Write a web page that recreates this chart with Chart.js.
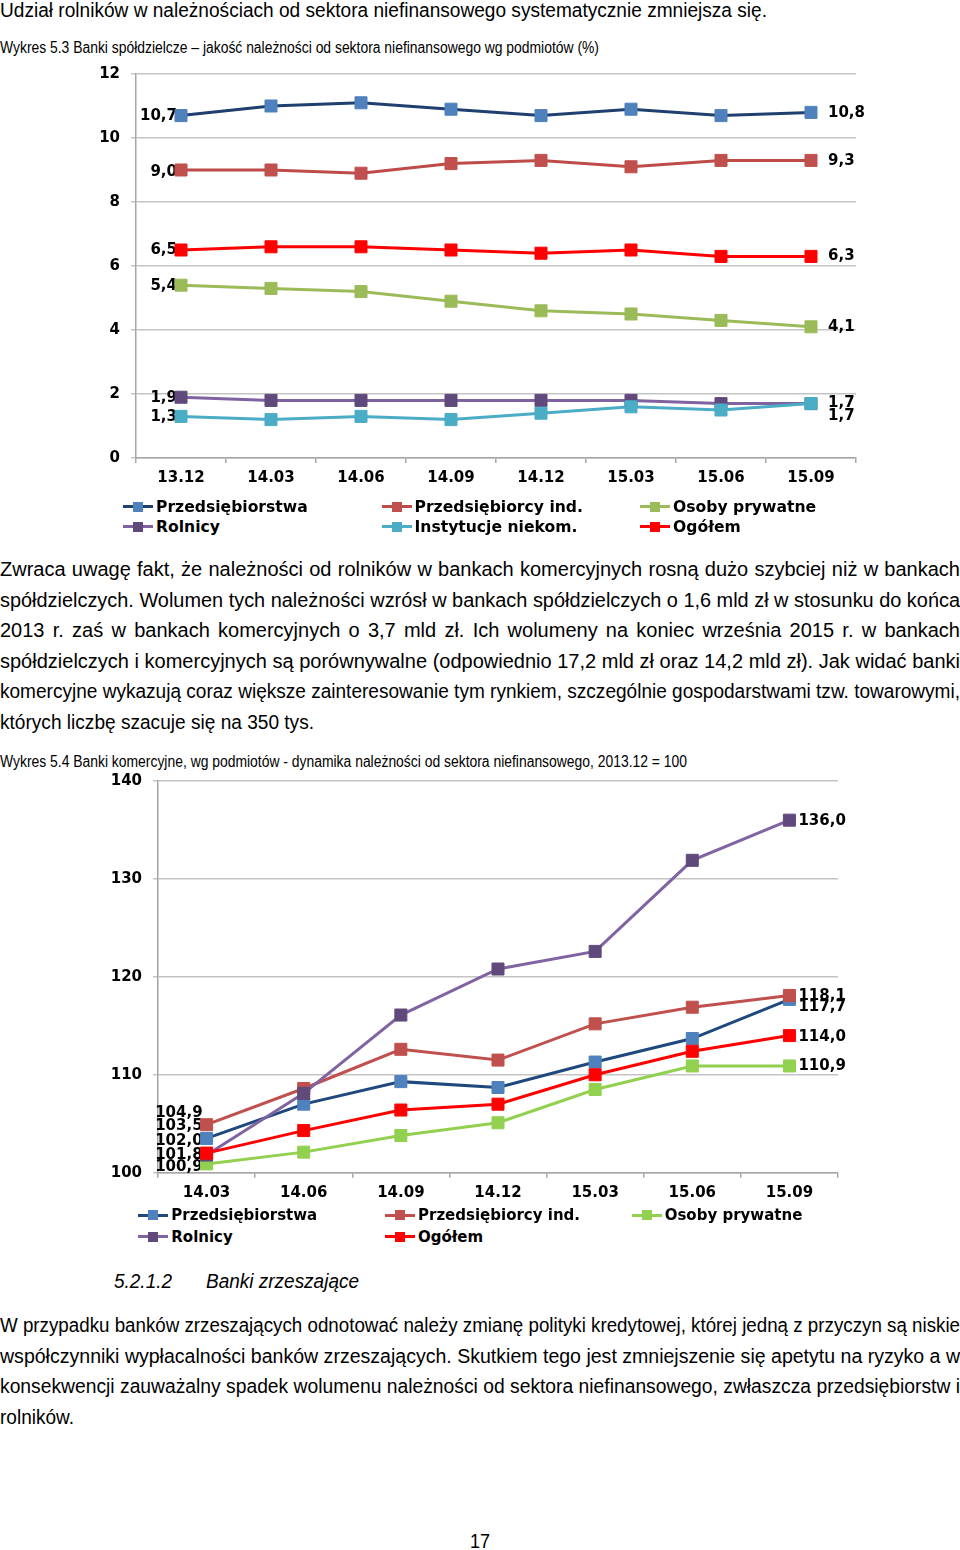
<!DOCTYPE html>
<html><head><meta charset="utf-8">
<script src="https://cdn.jsdelivr.net/npm/chart.js@4.4.1/dist/chart.umd.min.js"></script>
<style>
html,body{margin:0;padding:0;background:#fff;}
body{width:960px;height:1550px;position:relative;overflow:hidden;font-family:"Liberation Sans Narrow","Arial Narrow","Liberation Sans",Arial,sans-serif;color:#000;}
.t{position:absolute;display:inline-block;white-space:nowrap;line-height:1;transform-origin:0 0;}
.cv{position:absolute;left:0;}
.leg{position:absolute;height:20px;display:flex;align-items:center;font-family:"DejaVu Sans",Verdana,sans-serif;font-weight:bold;white-space:nowrap;}
.leg .ln{position:relative;width:30px;height:3px;margin-right:3px;}
.leg .sq{position:absolute;left:10px;top:-3.5px;width:10px;height:10px;}
</style></head><body>

<div class="t" data-fs="20" data-b="16.5" data-x="0" data-w="767">Udział rolników w należnościach od sektora niefinansowego systematycznie zmniejsza się.</div>
<div class="t" data-fs="16" data-b="54" data-x="0" data-w="599">Wykres 5.3 Banki spółdzielcze – jakość należności od sektora niefinansowego wg podmiotów (%)</div>

<canvas id="c1" class="cv" width="960" height="440" style="top:60px"></canvas>

<div class="t" data-fs="20" data-b="576" data-x="0" data-w="960" data-mode="j">Zwraca uwagę fakt, że należności od rolników w bankach komercyjnych rosną dużo szybciej niż w bankach</div>
<div class="t" data-fs="20" data-b="606.5" data-x="0" data-w="960" data-mode="j">spółdzielczych. Wolumen tych należności wzrósł w bankach spółdzielczych o 1,6 mld zł w stosunku do końca</div>
<div class="t" data-fs="20" data-b="637" data-x="0" data-w="960" data-mode="j">2013 r. zaś w bankach komercyjnych o 3,7 mld zł. Ich wolumeny na koniec września 2015 r. w bankach</div>
<div class="t" data-fs="20" data-b="667.5" data-x="0" data-w="960" data-mode="j">spółdzielczych i komercyjnych są porównywalne (odpowiednio 17,2 mld zł oraz 14,2 mld zł). Jak widać banki</div>
<div class="t" data-fs="20" data-b="698" data-x="0" data-w="960" data-mode="j">komercyjne wykazują coraz większe zainteresowanie tym rynkiem, szczególnie gospodarstwami tzw. towarowymi,</div>
<div class="t" data-fs="20" data-b="728.5" data-x="0" data-w="314">których liczbę szacuje się na 350 tys.</div>

<div class="t" data-fs="16" data-b="768" data-x="0" data-w="687">Wykres 5.4 Banki komercyjne, wg podmiotów - dynamika należności od sektora niefinansowego, 2013.12 = 100</div>

<canvas id="c2" class="cv" width="960" height="440" style="top:770px"></canvas>

<div class="t" data-fs="20.5" data-b="1288" data-x="114" data-w="58" style="font-style:italic">5.2.1.2</div>
<div class="t" data-fs="20.5" data-b="1288" data-x="206" data-w="153" style="font-style:italic">Banki zrzeszające</div>

<div class="t" data-fs="20" data-b="1332" data-x="0" data-w="960" data-mode="j">W przypadku banków zrzeszających odnotować należy zmianę polityki kredytowej, której jedną z przyczyn są niskie</div>
<div class="t" data-fs="20" data-b="1362.5" data-x="0" data-w="960" data-mode="j">współczynniki wypłacalności banków zrzeszających. Skutkiem tego jest zmniejszenie się apetytu na ryzyko a w</div>
<div class="t" data-fs="20" data-b="1393" data-x="0" data-w="960" data-mode="j">konsekwencji zauważalny spadek wolumenu należności od sektora niefinansowego, zwłaszcza przedsiębiorstw i</div>
<div class="t" data-fs="20" data-b="1423.5" data-x="0" data-w="74">rolników.</div>

<div class="t" data-fs="20" data-b="1548" data-x="470" data-w="20">17</div>

<script>
// ---------- DATA ----------
const categories1 = ['13.12','14.03','14.06','14.09','14.12','15.03','15.06','15.09'];
const yTicks1 = [0,2,4,6,8,10,12];
const przedsiebiorstwa1  = [10.7,11.0,11.1,10.9,10.7,10.9,10.7,10.8];
const przedsiebiorcyInd1 = [9.0,9.0,8.9,9.2,9.3,9.1,9.3,9.3];
const osobyPrywatne1     = [5.4,5.3,5.2,4.9,4.6,4.5,4.3,4.1];
const rolnicy1           = [1.9,1.8,1.8,1.8,1.8,1.8,1.7,1.7];
const instytucje1        = [1.3,1.2,1.3,1.2,1.4,1.6,1.5,1.7];
const ogolem1            = [6.5,6.6,6.6,6.5,6.4,6.5,6.3,6.3];

const categories2 = ['14.03','14.06','14.09','14.12','15.03','15.06','15.09'];
const yTicks2 = [100,110,120,130,140];
const przedsiebiorstwa2  = [103.5,107.0,109.3,108.7,111.3,113.7,117.7];
const przedsiebiorcyInd2 = [104.9,108.6,112.6,111.5,115.2,116.9,118.1];
const osobyPrywatne2     = [100.9,102.1,103.8,105.1,108.5,110.9,110.9];
const rolnicy2           = [101.8,108.1,116.1,120.8,122.6,131.9,136.0];
const ogolem2            = [102.0,104.3,106.4,107.0,110.0,112.4,114.0];

// ---------- TEXT PLACEMENT ----------
function placeText(){
  document.querySelectorAll('.t').forEach(el=>{
    const fs=parseFloat(el.dataset.fs), b=parseFloat(el.dataset.b);
    el.style.fontSize=fs+'px';
    el.style.top=(b-0.8465*fs)+'px';
    el.style.left=(el.dataset.x||0)+'px';
    const w=parseFloat(el.dataset.w);
    const nat=el.getBoundingClientRect().width;
    if(el.dataset.mode==='j'){
      if(nat>w){ el.style.transform='scaleX('+(w/nat)+')'; }
      else { el.style.width=w+'px'; el.style.whiteSpace='normal'; el.style.textAlign='justify'; el.style.textAlignLast='justify'; }
    } else if(w){ el.style.transform='scaleX('+(w/nat)+')'; }
  });
}

// ---------- CHART HELPERS ----------
const FONT = '"DejaVu Sans", Verdana, sans-serif';
const fmt = v => v.toFixed(1).replace('.', ',');

const labelPlugin = {
  id:'endLabels',
  beforeDatasetsDraw(chart, args, opts){
    const ctx=chart.ctx; ctx.save();
    ctx.font='bold 15px '+FONT; ctx.fillStyle='#000'; ctx.textBaseline='middle';
    chart.data.datasets.forEach((ds,i)=>{
      const pts=chart.getDatasetMeta(i).data;
      const p0=pts[0], pn=pts[pts.length-1];
      ctx.textAlign='right';
      ctx.fillText(fmt(ds.data[0]), p0.x+opts.firstDx, p0.y+(ds.firstDy||0));
      ctx.textAlign='left';
      ctx.fillText(fmt(ds.data[ds.data.length-1]), pn.x+opts.lastDx, pn.y+(ds.lastDy||0));
    });
    ctx.restore();
  }
};

function series(label, data, line, marker, firstDy, lastDy){
  return {label, data, borderColor:line, backgroundColor:marker,
    pointBackgroundColor:marker, pointBorderColor:marker, pointBorderWidth:1,
    pointStyle:'rect', pointRadius:8.5, borderWidth:3, tension:0, fill:false,
    firstDy, lastDy};
}

function noPad(s){ s.paddingTop=0; s.paddingBottom=0; s.paddingLeft=0; s.paddingRight=0; }

function makeChart(id, cats, ticks, min, max, dsets, area, canvasH, dx){
  dsets.forEach((d,i)=>{ d.order = dsets.length - i; });
  const fit = {xh: canvasH - area.bottom, yw: area.left};
  const chart = new Chart(document.getElementById(id), {
    type:'line',
    data:{labels:cats, datasets:dsets},
    plugins:[labelPlugin],
    options:{
      responsive:false, animation:false, devicePixelRatio:1,
      layout:{autoPadding:false, padding:{top:area.top, right:960-area.right, left:0, bottom:0}},
      plugins:{legend:{display:false}, tooltip:{enabled:false}, endLabels:dx},
      scales:{
        x:{type:'category', offset:true,
           grid:{offset:true, drawOnChartArea:false, drawTicks:true, tickLength:5, color:'#A6A6A6', lineWidth:1.5},
           border:{display:true, color:'#A6A6A6', width:1.5},
           ticks:{color:'#000', font:{family:FONT, size:15, weight:'bold'}, padding:6.5, maxRotation:0, autoSkip:false},
           afterFit:s=>{ s.height = fit.xh; noPad(s); }},
        y:{min, max,
           afterBuildTicks:s=>{ s.ticks = ticks.map(v=>({value:v})); },
           grid:{color:'#C4C4C4', lineWidth:1.5, tickLength:5, drawTicks:true},
           border:{display:true, color:'#A6A6A6', width:1.5},
           ticks:{color:'#000', font:{family:FONT, size:15, weight:'bold'}, padding:11},
           afterFit:s=>{ s.width = fit.yw; noPad(s); }}
      }
    }
  });
  return chart;
}

function buildLegend(dsets, colsX, rowsY, fs){
  dsets.forEach((d,i)=>{
    const c=i%3, r=Math.floor(i/3);
    const el=document.createElement('div'); el.className='leg';
    el.style.fontSize=fs+'px';
    el.style.left=colsX[c]+'px'; el.style.top=(rowsY[r]-10)+'px';
    el.innerHTML='<span class="ln" style="background:'+d.borderColor+'"><span class="sq" style="background:'+d.pointBackgroundColor+'"></span></span>'+d.label;
    document.body.appendChild(el);
  });
}

function draw(){
  placeText();
  const d1=[
    series('Przedsiębiorstwa', przedsiebiorstwa1, '#1F3F6E', '#4F81BD', 1, 1),
    series('Przedsiębiorcy ind.', przedsiebiorcyInd1, '#BE4B48', '#C0504D', 2, 1),
    series('Osoby prywatne', osobyPrywatne1, '#9BBB59', '#9BBB59', 1, 0),
    series('Rolnicy', rolnicy1, '#7F62A0', '#604A7B', 1, 0),
    series('Instytucje niekom.', instytucje1, '#4BACC6', '#4BACC6', 1, 13),
    series('Ogółem', ogolem1, '#FF0000', '#FF0000', 0, 0)
  ];
  makeChart('c1', categories1, yTicks1, 0, 12, d1, {left:136, right:856, top:14, bottom:398}, 440, {firstDx:-4, lastDx:17});
  buildLegend(d1, [123,381.5,640], [506.7,526.7], 15.6);

  const d2=[
    series('Przedsiębiorstwa', przedsiebiorstwa2, '#1F497D', '#4F81BD', -12, 8),
    series('Przedsiębiorcy ind.', przedsiebiorcyInd2, '#C0504D', '#C0504D', -11.5, 1),
    series('Osoby prywatne', osobyPrywatne2, '#92D050', '#92D050', 3, 0),
    series('Rolnicy', rolnicy2, '#8064A2', '#604A7B', 0, 1),
    series('Ogółem', ogolem2, '#FF0000', '#FF0000', -12, 2)
  ];
  makeChart('c2', categories2, yTicks2, 100, 140, d2, {left:158, right:838, top:11, bottom:402.7}, 440, {firstDx:-4, lastDx:9});
  buildLegend(d2, [138.3,385,631.7], [1215,1236.7], 15);
}
if(document.fonts && document.fonts.ready){ document.fonts.ready.then(draw); } else { draw(); }
</script>
</body></html>
